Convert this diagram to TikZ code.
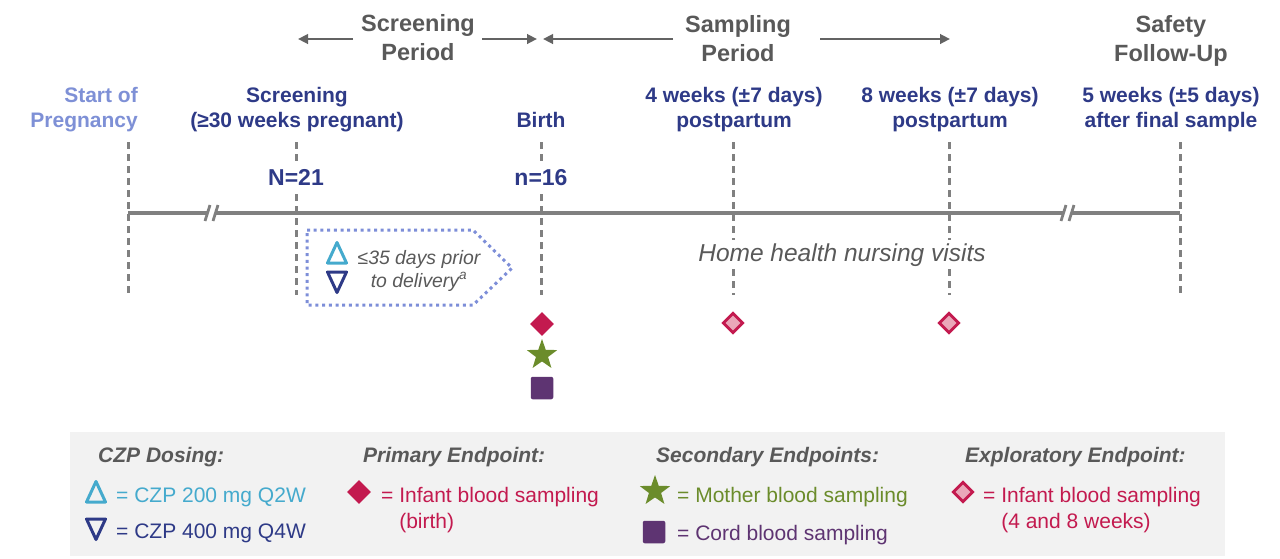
\documentclass[tikz,border=0pt]{standalone}
\usepackage{fontspec}
\setmainfont{Liberation Sans}
\usetikzlibrary{arrows.meta,shapes.geometric}
\definecolor{txtgray}{HTML}{595959}
\definecolor{arrgray}{HTML}{636363}
\definecolor{axisgray}{HTML}{808080}
\definecolor{dblue}{HTML}{2E3A87}
\definecolor{startblue}{HTML}{7E90D6}
\definecolor{boxblue}{HTML}{7D8ED8}
\definecolor{triblue}{HTML}{45AACD}
\definecolor{crimson}{HTML}{C31A4F}
\definecolor{pinkfill}{HTML}{EAA7B9}
\definecolor{olivegreen}{HTML}{6B8C2B}
\definecolor{plum}{HTML}{5E3472}
\definecolor{legendbg}{HTML}{F2F2F2}
\begin{document}
\begin{tikzpicture}[x=1pt,y=-1pt,
  periodlbl/.style={font=\bfseries\fontsize{23.5}{29}\selectfont, text=txtgray, align=center, anchor=north, inner sep=0pt},
  eventlbl/.style={font=\bfseries\fontsize{21}{25}\selectfont, text=dblue, align=center, anchor=north, inner sep=0pt},
  countlbl/.style={font=\bfseries\fontsize{23}{27}\selectfont, text=dblue, anchor=base, inner sep=3pt, text depth=6pt},
  hhlbl/.style={font=\itshape\fontsize{24.5}{29}\selectfont, text=txtgray, anchor=base, inner xsep=0pt, inner ysep=3pt},
  boxtxt/.style={font=\itshape\fontsize{19.4}{23}\selectfont, text=txtgray, align=center, anchor=north, inner sep=0pt},
  leghead/.style={font=\bfseries\itshape\fontsize{21}{25}\selectfont, text=txtgray, anchor=base west, inner sep=0pt},
  legtxt/.style={font=\fontsize{21}{26}\selectfont, anchor=base west, inner sep=0pt, align=left},
  legtwo/.style={font=\fontsize{21}{26}\selectfont, anchor=north west, inner sep=0pt, align=left},
  periodarrow/.style={draw=arrgray, line width=2.6pt, -{Triangle[length=10pt,width=9.5pt]}},
  axisline/.style={draw=axisgray, line width=4.5pt},
  vdash/.style={draw=axisgray, line width=3pt, dash pattern=on 7pt off 5pt},
  breakmark/.style={draw=axisgray, line width=2.8pt},
  dotbox/.style={draw=boxblue, line width=3pt, dash pattern=on 3pt off 3.7pt},
  fdiamond/.style={diamond, aspect=1, minimum size=24pt, inner sep=0pt, fill=crimson},
  odiamond/.style={diamond, aspect=1, minimum size=20.5pt, inner sep=0pt, fill=pinkfill, draw=crimson, line width=2.8pt},
  gstar/.style={star, star points=5, star point ratio=2.5, minimum size=32pt, inner sep=0pt, fill=olivegreen},
  psquare/.style={rectangle, minimum size=22.5pt, inner sep=0pt, rounded corners=2pt, fill=plum},
  uptri/.pic={\draw[line width=3pt, line join=round] (-9.5,10) -- (0,-10.5) -- (9.5,10) -- cycle;},
  downtri/.pic={\draw[line width=3pt, line join=round] (-9.5,-10) -- (0,10.5) -- (9.5,-10) -- cycle;}
]
\useasboundingbox (0,0) rectangle (1280,558);

% legend background
\fill[legendbg] (70,432) rectangle (1225,556);

% period headings
\node[periodlbl] (scrper) at (418,11) {\strut Screening\\Period};
\node[periodlbl] (samper) at (738,12) {\strut Sampling\\Period};
\node[periodlbl] (safper) at (1171,12) {\strut Safety\\Follow-Up};

% period arrows
\coordinate (sa1) at (353,39); \coordinate (sa1e) at (298,39);
\coordinate (sa2) at (482,39); \coordinate (sa2e) at (537,39);
\coordinate (sb1) at (673,39); \coordinate (sb1e) at (543,39);
\coordinate (sb2) at (820,39); \coordinate (sb2e) at (950,39);
\draw[periodarrow] (sa1) -- (sa1e);
\draw[periodarrow] (sa2) -- (sa2e);
\draw[periodarrow] (sb1) -- (sb1e);
\draw[periodarrow] (sb2) -- (sb2e);

% event labels
\node[eventlbl, text=startblue, align=right, anchor=north east] (startlbl) at (138,84.5) {\strut Start of\\Pregnancy};
\node[eventlbl] (scrlbl) at (297,84.5) {\strut Screening\\(≥30 weeks pregnant)};
\node[eventlbl, anchor=base] (birthlbl) at (541,127) {Birth};
\node[eventlbl] (wk4lbl) at (734,84.5) {\strut 4 weeks (±7 days)\\postpartum};
\node[eventlbl] (wk8lbl) at (950,84.5) {\strut 8 weeks (±7 days)\\postpartum};
\node[eventlbl] (safelbl) at (1171,84.5) {\strut 5 weeks (±5 days)\\after final sample};

% counts
\node[countlbl] (n21) at (296,185) {N=21};
\node[countlbl] (n16) at (541,185) {n=16};

% home health label
\node[hhlbl] (hh) at (842,261) {Home health nursing visits};

% vertical dashed lines
\coordinate (v0t) at (128,142); \coordinate (v0b) at (128,295);
\coordinate (v1t) at (296,142); \coordinate (v1b) at (296,295);
\coordinate (v2t) at (541,142); \coordinate (v2b) at (541,295);
\coordinate (v3t) at (733,142); \coordinate (v3b) at (733,295);
\coordinate (v4t) at (949,142); \coordinate (v4b) at (949,295);
\coordinate (v5t) at (1180,142); \coordinate (v5b) at (1180,295);
\draw[vdash] (v0t) -- (v0b);
\draw[vdash] (v1t) -- (n21.north);
\draw[vdash] (n21.south) -- (v1b);
\draw[vdash] (v2t) -- (n16.north);
\draw[vdash] (n16.south) -- (v2b);
\draw[vdash] (v3t) -- (v3t |- hh.north);
\draw[vdash] (v3t |- hh.south) -- (v3b);
\draw[vdash] (v4t) -- (v4t |- hh.north);
\draw[vdash] (v4t |- hh.south) -- (v4b);
\draw[vdash] (v5t) -- (v5b);

% timeline
\coordinate (tl0) at (128,213); \coordinate (tl1) at (1180,213);
\draw[axisline] (tl0) -- (tl1);
% break marks
\fill[white] (207,209) -- (216,209) -- (216,217.5) -- (207,217.5) -- cycle;
\draw[breakmark] (205,221) -- (210,205);
\draw[breakmark] (213,221) -- (218,205);
\fill[white] (1063,209) -- (1072,209) -- (1072,217.5) -- (1063,217.5) -- cycle;
\draw[breakmark] (1061,221) -- (1066,205);
\draw[breakmark] (1069,221) -- (1074,205);

% dosing window box
\draw[dotbox] (307,230) -- (473,230) -- (512,268) -- (473,305) -- (307,305) -- cycle;
\pic[color=triblue] (boxup) at (337,253) {uptri};
\pic[color=dblue] (boxdown) at (337,282) {downtri};
\node[boxtxt] (boxtext) at (419,248) {\strut ≤35 days prior\\to delivery\textsuperscript{a}};

% sampling symbols
\node[fdiamond] (bdia) at (542,324) {};
\node[gstar] (bstar) at (542,355) {};
\node[psquare] (bsq) at (542,388) {};
\node[odiamond] (d4) at (733,323) {};
\node[odiamond] (d8) at (949,323) {};

% legend
\node[leghead] (lh1) at (98,462) {CZP Dosing:};
\pic[color=triblue] (lup) at (96,492) {uptri};
\node[legtxt, text=triblue] (l1a) at (116,502) {= CZP 200 mg Q2W};
\pic[color=dblue] (ldown) at (96,529) {downtri};
\node[legtxt, text=dblue] (l1b) at (116,538) {= CZP 400 mg Q4W};

\node[leghead] (lh2) at (363,462) {Primary Endpoint:};
\node[fdiamond] (ldia) at (359,492) {};
\node[legtwo, text=crimson] (l2) at (381,483.8) {\strut = Infant blood sampling\\\hphantom{= }(birth)};

\node[leghead] (lh3) at (656,462) {Secondary Endpoints:};
\node[gstar] (lstar) at (655,491) {};
\node[legtxt, text=olivegreen] (l3a) at (677,502) {= Mother blood sampling};
\node[psquare] (lsq) at (654,532) {};
\node[legtxt, text=plum] (l3b) at (677,540) {= Cord blood sampling};

\node[leghead] (lh4) at (965,462) {Exploratory Endpoint:};
\node[odiamond] (lodia) at (963,492) {};
\node[legtwo, text=crimson] (l4) at (983,483.8) {\strut = Infant blood sampling\\\hphantom{= }(4 and 8 weeks)};
\end{tikzpicture}
\end{document}
